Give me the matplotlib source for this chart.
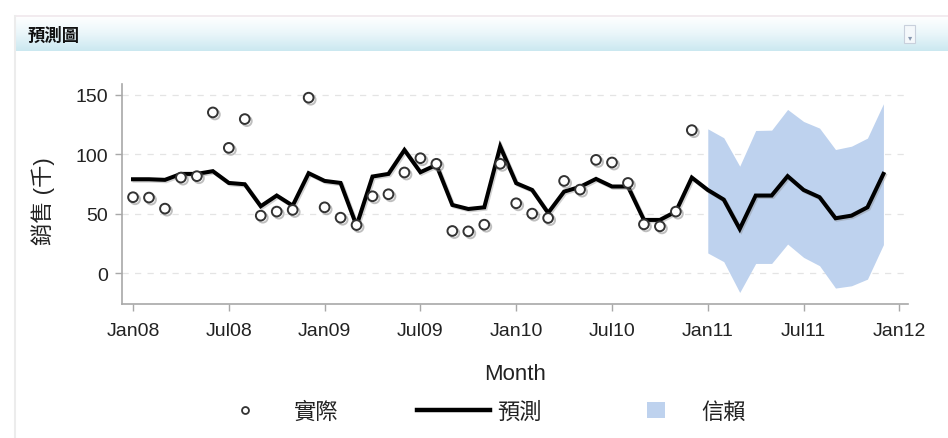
import numpy as np
import matplotlib
matplotlib.use("Agg")
import matplotlib.pyplot as plt
from matplotlib.lines import Line2D
from matplotlib.patches import Patch, Rectangle
from matplotlib.colors import LinearSegmentedColormap
import matplotlib.patheffects as pe

plt.rcParams['font.family'] = ['Liberation Sans', 'Noto Sans CJK TC', 'DejaVu Sans']

# ---------------- data ----------------
actual = [63.8, 63.5, 54.2, 80.3, 81.5, 135.1, 105.3, 129.5, 48.3, 51.7, 53.1, 147.5,
          55.3, 46.6, 40.4, 64.6, 66.3, 84.6, 96.6, 91.9, 35.4, 35.1, 40.7, 91.9,
          58.7, 50.0, 46.3, 77.5, 70.2, 95.2, 93.0, 75.8, 41.0, 39.3, 51.7, 120.2]
forecast = [78.9, 78.9, 78.4, 83.4, 83.4, 85.7, 75.8, 74.7, 56.2, 65.2, 56.7, 84.0,
            77.5, 75.8, 39.9, 81.2, 83.4, 103.5, 84.8, 91.0, 57.3, 53.9, 55.3, 106.5,
            75.6, 69.9, 50.6, 68.5, 72.5, 79.2, 72.8, 72.8, 44.7, 44.7, 51.7, 80.3,
            69.9, 61.8, 37.1, 65.2, 65.2, 81.5, 69.9, 63.8, 46.1, 48.3, 55.3, 83.4]
upper = [121.3, 113.8, 89.9, 119.9, 120.2, 137.6, 127.5, 121.9, 103.9, 106.7, 113.5, 142.4]
lower = [16.9, 9.6, -16.3, 8.1, 8.1, 24.4, 13.2, 6.2, -12.6, -10.7, -5.1, 23.9]
tick_labels = ['Jan08', 'Jul08', 'Jan09', 'Jul09', 'Jan10', 'Jul10', 'Jan11', 'Jul11', 'Jan12']
yticks = [0, 50, 100, 150]

title = '預測圖'
ylabel = '銷售 (千)'
xlabel = 'Month'
legend_labels = ['實際', '預測', '信賴']

# ---------------- figure ----------------
W, H = 948, 439
fig = plt.figure(figsize=(W / 100, H / 100), dpi=100)

def fx(px):
    return px / W

def fy(py):
    return 1 - py / H

# header bar with gradient
hax = fig.add_axes([fx(15), fy(52), fx(948 - 15), (52 - 17) / H])
grad = np.linspace(0, 1, 100).reshape(-1, 1)
cmap = LinearSegmentedColormap.from_list('hdr', ['#ffffff', '#eaf6fa', '#cbe8f0'])
hax.imshow(grad, aspect='auto', cmap=cmap, extent=[0, 1, 0, 1], origin='upper')
hax.set_xlim(0, 1)
hax.set_ylim(0, 1)
hax.axis('off')
hax.add_patch(Rectangle((0.953, 0.22), 0.012, 0.52, transform=hax.transAxes,
                        facecolor='#f4f8fb', edgecolor='#c8d0dc', lw=0.8))
hax.text(0.959, 0.42, '▾', transform=hax.transAxes, ha='center', va='center',
         fontsize=6, color='#8898b0', family='DejaVu Sans')
fig.text(fx(28), fy(35), title, fontsize=12.5, fontweight='bold', ha='left', va='center',
         color='#111111')
# top and left frame lines
fig.add_artist(Line2D([fx(15), 1], [fy(17), fy(17)], color='#f0e8ec', lw=1.2))
fig.add_artist(Line2D([fx(15), fx(15)], [fy(17), 0], color='#ececec', lw=1.5))

# main axes
ax = fig.add_axes([fx(122), fy(305), fx(908 - 122), (305 - 85) / H])
x_all = np.arange(len(forecast))
x_act = np.arange(len(actual))
x_band = np.arange(len(actual), len(actual) + len(upper))

band_color = '#bed2ee'
ax.fill_between(x_band, lower, upper, color=band_color, lw=0, zorder=1)
ax.plot(x_all, forecast, color='black', lw=2.9, solid_joinstyle='miter', zorder=3,
        path_effects=[pe.SimpleLineShadow(offset=(1, -1), shadow_color='gray', alpha=0.35),
                      pe.Normal()])
ax.plot(x_act, actual, ls='none', marker='o', ms=7, mfc='white', mec='#333333', mew=1.4,
        zorder=4,
        path_effects=[pe.SimpleLineShadow(offset=(1.5, -1.5), shadow_color='gray', alpha=0.5),
                      pe.Normal()])

ax.set_xlim(-0.69, 48.54)
ax.set_ylim(-26, 159)
ax.set_xticks(np.arange(0, 49, 6))
ax.set_xticklabels(tick_labels)
ax.set_yticks(yticks)
ax.set_yticklabels([str(v) for v in yticks])

for v in yticks:
    ax.axhline(v, color='#e4e4e4', lw=0.9, ls=(0, (5, 5)), zorder=0)

for s in ['top', 'right']:
    ax.spines[s].set_visible(False)
for s in ['left', 'bottom']:
    ax.spines[s].set_color('#a8a8a8')
    ax.spines[s].set_linewidth(1.2)
ax.tick_params(axis='both', colors='#a8a8a8', length=5, width=1, labelsize=14,
               labelcolor='#222222')
ax.tick_params(axis='x', pad=8)
ax.tick_params(axis='y', pad=5)

ax.set_ylabel(ylabel, fontsize=16, color='#222222')
ax.yaxis.set_label_coords(-0.085, 0.47)
ax.set_xlabel(xlabel, fontsize=16, color='#222222')
ax.xaxis.set_label_coords(0.5, -0.27)

# legends
yleg = fy(413)
h1 = Line2D([], [], ls='none', marker='o', ms=5, mfc='white', mec='#333333', mew=1.3)
h2 = Line2D([], [], color='black', lw=3.2)
h3 = Patch(facecolor=band_color, edgecolor='none')
common = dict(frameon=False, borderpad=0, borderaxespad=0, fontsize=16, loc='center left')
l1 = fig.legend([h1], [legend_labels[0]], bbox_to_anchor=(fx(223), yleg), handlelength=2.0,
                handletextpad=1.2, numpoints=1, **common)
l2 = fig.legend([h2], [legend_labels[1]], bbox_to_anchor=(fx(417), yleg), handlelength=3.3,
                handletextpad=0.3, **common)
l3 = fig.legend([h3], [legend_labels[2]], bbox_to_anchor=(fx(647), yleg), handlelength=0.8,
                handleheight=0.75, handletextpad=1.65, **common)
for lg in (l1, l2, l3):
    for t in lg.get_texts():
        t.set_color('#222222')

fig.savefig('out.png', dpi=100)
